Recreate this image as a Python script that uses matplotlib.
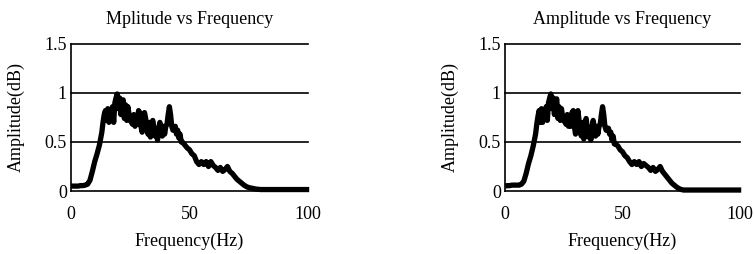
import matplotlib.pyplot as plt

plt.rcParams.update({'font.size': 13})
plt.rcParams["font.family"] = 'Liberation Serif'

# left spectrum
freq_a = [0, 1, 2, 3, 4, 5, 6, 7, 8, 9, 10, 11, 12, 13, 13.5, 14, 14.5, 15, 15.5, 16,
          16.5, 17, 17.5, 18, 18.5, 19, 19.5, 20, 20.5, 21, 21.5, 22, 22.5, 23, 23.5, 24,
          24.5, 25, 26, 26.5, 27, 27.5, 28, 28.5, 29, 29.5, 30, 30.5, 31, 31.5, 32, 32.5,
          33, 33.5, 34, 34.5, 35, 35.5, 36, 36.5, 37, 37.5, 38, 38.5, 39, 39.5, 40, 40.5,
          41, 41.5, 42, 42.5, 43, 43.5, 44, 44.5, 45, 45.5, 46, 46.5, 47, 48, 49, 50, 51,
          52, 53, 54, 55, 56, 57, 58, 59, 60, 61, 62, 63, 64, 65, 66, 67, 68, 69, 70, 71,
          72, 73, 74, 75, 76, 77, 78, 80, 85, 90, 95, 100.5]
amp_a = [0.05, 0.05, 0.05, 0.05, 0.055, 0.055, 0.06, 0.07, 0.11, 0.2, 0.3, 0.38, 0.47,
         0.6, 0.7, 0.78, 0.82, 0.72, 0.84, 0.7, 0.82, 0.76, 0.86, 0.7, 0.9, 0.95, 0.99,
         0.84, 0.95, 0.78, 0.9, 0.93, 0.74, 0.88, 0.72, 0.86, 0.78, 0.72, 0.68, 0.78, 0.66,
         0.76, 0.68, 0.82, 0.8, 0.66, 0.6, 0.74, 0.8, 0.74, 0.62, 0.58, 0.7, 0.55, 0.68,
         0.72, 0.64, 0.56, 0.62, 0.52, 0.64, 0.7, 0.64, 0.56, 0.66, 0.58, 0.66, 0.68, 0.78,
         0.86, 0.78, 0.66, 0.62, 0.64, 0.66, 0.58, 0.62, 0.54, 0.58, 0.5, 0.5, 0.47, 0.44,
         0.42, 0.38, 0.36, 0.3, 0.27, 0.3, 0.27, 0.3, 0.25, 0.3, 0.26, 0.24, 0.21, 0.24,
         0.2, 0.22, 0.25, 0.2, 0.18, 0.15, 0.12, 0.1, 0.08, 0.06, 0.045, 0.035, 0.03,
         0.025, 0.02, 0.015, 0.015, 0.015, 0.015, 0.015]

# right spectrum
freq_b = [0, 1, 2, 3, 4, 5, 6, 7, 8, 9, 10, 11, 12, 13, 13.5, 14, 14.5, 15, 15.5, 16,
          16.5, 17, 17.5, 18, 18.5, 19, 19.5, 20, 20.5, 21, 21.5, 22, 22.5, 23, 23.5, 24,
          24.5, 25, 26, 26.5, 27, 27.5, 28, 28.5, 29, 29.5, 30, 30.5, 31, 31.5, 32, 32.5,
          33, 33.5, 34, 34.5, 35, 35.5, 36, 36.5, 37, 37.5, 38, 38.5, 39, 39.5, 40, 40.5,
          41, 41.5, 42, 42.5, 43, 43.5, 44, 44.5, 45, 45.5, 46, 46.5, 47, 48, 49, 50, 51,
          52, 53, 54, 55, 56, 57, 58, 59, 60, 61, 62, 63, 64, 65, 66, 67, 68, 69, 70, 71,
          72, 73, 74, 75, 76, 77, 80, 85, 90, 95, 100.5]
amp_b = [0.05, 0.055, 0.055, 0.06, 0.06, 0.06, 0.06, 0.07, 0.1, 0.18, 0.28, 0.36, 0.46,
         0.58, 0.68, 0.76, 0.82, 0.7, 0.84, 0.7, 0.8, 0.74, 0.86, 0.72, 0.9, 0.95, 0.99,
         0.84, 0.95, 0.78, 0.9, 0.94, 0.74, 0.86, 0.72, 0.84, 0.76, 0.72, 0.68, 0.78, 0.66,
         0.76, 0.66, 0.8, 0.82, 0.66, 0.58, 0.72, 0.82, 0.72, 0.6, 0.56, 0.7, 0.53, 0.68,
         0.74, 0.64, 0.55, 0.62, 0.52, 0.66, 0.72, 0.64, 0.56, 0.66, 0.58, 0.66, 0.68, 0.78,
         0.86, 0.78, 0.66, 0.62, 0.64, 0.64, 0.58, 0.6, 0.52, 0.56, 0.48, 0.48, 0.46, 0.42,
         0.4, 0.36, 0.34, 0.3, 0.27, 0.3, 0.27, 0.3, 0.25, 0.28, 0.26, 0.24, 0.21, 0.24,
         0.2, 0.22, 0.25, 0.2, 0.17, 0.14, 0.11, 0.08, 0.06, 0.04, 0.025, 0.015, 0.01,
         0.01, 0.01, 0.01, 0.01, 0.01, 0.01]

titles = ['Mplitude vs Frequency', 'Amplitude vs Frequency']
yticks = [0, 0.5, 1, 1.5]
ytick_labels = ['0', '0.5', '1', '1.5']
xticks = [0, 50, 100]

fig = plt.figure(figsize=(7.54, 2.54), dpi=100)
ax1 = fig.add_axes([0.0942, 0.248, 0.3143, 0.579])
ax2 = fig.add_axes([0.6698, 0.248, 0.3117, 0.579])

for ax, f, a, t in zip([ax1, ax2], [freq_a, freq_b], [amp_a, amp_b], titles):
    for y in yticks:
        ax.axhline(y, color='black', lw=1.2, clip_on=False)
    ax.plot(f, a, color='black', lw=3.8, clip_on=False,
            solid_joinstyle='round', solid_capstyle='butt')
    ax.set_xlim(0, 100)
    ax.set_ylim(0, 1.5)
    for s in ['top', 'right', 'bottom']:
        ax.spines[s].set_visible(False)
    ax.spines['left'].set_linewidth(1.2)
    ax.set_xticks(xticks)
    ax.set_yticks(yticks)
    ax.set_yticklabels(ytick_labels)
    ax.tick_params(length=0)
    ax.tick_params(axis='x', pad=11)
    ax.tick_params(axis='y', pad=3)
    ax.set_title(t, fontsize=13, pad=14)
    ax.set_xlabel('Frequency(Hz)', labelpad=7)
    ax.set_ylabel('Amplitude(dB)', labelpad=14)

plt.savefig('out.png', dpi=100)
